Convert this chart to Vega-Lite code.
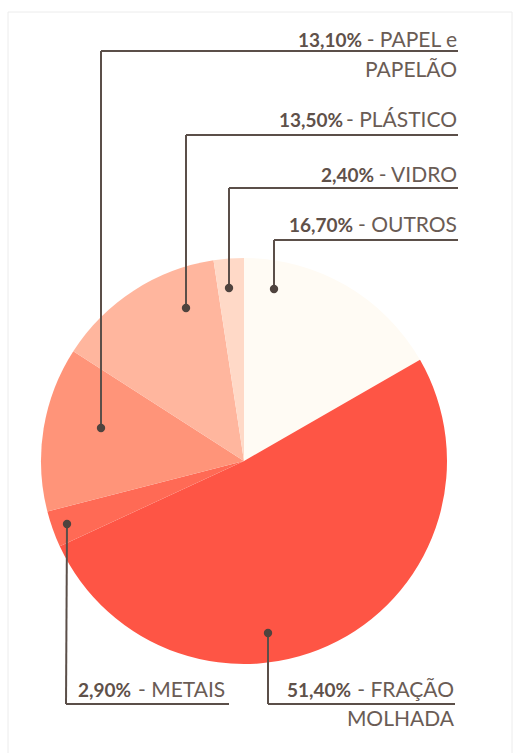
{
  "$schema": "https://vega.github.io/schema/vega-lite/v6.json",
  "width": 514,
  "height": 753,
  "autosize": {"type": "none"},
  "padding": 0,
  "background": "#ffffff",
  "config": {"view": {"stroke": null}},
  "datasets": {
    "fatias": [
      {"categoria": "OUTROS", "valor": 16.7, "ordem": 1},
      {"categoria": "FRAÇÃO MOLHADA", "valor": 51.4, "ordem": 2},
      {"categoria": "METAIS", "valor": 2.9, "ordem": 3},
      {"categoria": "PAPEL e PAPELÃO", "valor": 13.1, "ordem": 4},
      {"categoria": "PLÁSTICO", "valor": 13.5, "ordem": 5},
      {"categoria": "VIDRO", "valor": 2.4, "ordem": 6}
    ],
    "moldura": [{"x": 8, "y": 12, "x2": 512, "y2": 760}],
    "linhas": [
      {"x": 101, "y": 51, "x2": 458, "y2": 51},
      {"x": 101, "y": 51, "x2": 101, "y2": 428},
      {"x": 186, "y": 135, "x2": 458, "y2": 135},
      {"x": 186, "y": 135, "x2": 186, "y2": 308},
      {"x": 229, "y": 188, "x2": 458, "y2": 188},
      {"x": 229, "y": 188, "x2": 229, "y2": 288},
      {"x": 274, "y": 240, "x2": 458, "y2": 240},
      {"x": 274, "y": 240, "x2": 274, "y2": 289},
      {"x": 66, "y": 704, "x2": 229, "y2": 704},
      {"x": 66, "y": 704, "x2": 67, "y2": 524},
      {"x": 268, "y": 704, "x2": 455, "y2": 704},
      {"x": 268, "y": 704, "x2": 268, "y2": 633}
    ],
    "pontos": [
      {"x": 101, "y": 428},
      {"x": 186, "y": 308},
      {"x": 229, "y": 288},
      {"x": 274, "y": 289},
      {"x": 67, "y": 524},
      {"x": 268, "y": 633}
    ],
    "rotulos": [
      {"texto": "13,10%", "x": 362, "y": 47, "peso": "b", "al": "r"},
      {"texto": "- PAPEL e", "x": 457, "y": 47, "peso": "n", "al": "r"},
      {"texto": "PAPELÃO", "x": 457, "y": 77, "peso": "n", "al": "r"},
      {"texto": "13,50%", "x": 343, "y": 127, "peso": "b", "al": "r"},
      {"texto": "- PLÁSTICO", "x": 457, "y": 127, "peso": "n", "al": "r"},
      {"texto": "2,40%", "x": 374, "y": 182, "peso": "b", "al": "r"},
      {"texto": "- VIDRO", "x": 457, "y": 182, "peso": "n", "al": "r"},
      {"texto": "16,70%", "x": 353, "y": 232, "peso": "b", "al": "r"},
      {"texto": "- OUTROS", "x": 457, "y": 232, "peso": "n", "al": "r"},
      {"texto": "51,40%", "x": 351, "y": 697, "peso": "b", "al": "r"},
      {"texto": "- FRAÇÃO", "x": 454, "y": 697, "peso": "n", "al": "r"},
      {"texto": "MOLHADA", "x": 454, "y": 726, "peso": "n", "al": "r"},
      {"texto": "2,90%", "x": 78, "y": 697, "peso": "b", "al": "l"},
      {"texto": "- METAIS", "x": 138, "y": 697, "peso": "n", "al": "l"}
    ]
  },
  "layer": [
    {
      "data": {"name": "moldura"},
      "mark": {"type": "rect", "fill": null, "stroke": "#ececec", "strokeWidth": 1},
      "encoding": {
        "x": {"field": "x", "type": "quantitative", "scale": {"domain": [0, 514], "nice": false, "zero": false}, "axis": null},
        "x2": {"field": "x2"},
        "y": {"field": "y", "type": "quantitative", "scale": {"domain": [0, 753], "nice": false, "zero": false, "reverse": true}, "axis": null},
        "y2": {"field": "y2"}
      }
    },
    {
      "data": {"name": "fatias"},
      "mark": {"type": "arc", "outerRadius": 203},
      "encoding": {
        "x": {"datum": 244, "type": "quantitative"},
        "y": {"datum": 461, "type": "quantitative"},
        "theta": {"field": "valor", "type": "quantitative", "stack": true},
        "order": {"field": "ordem", "type": "quantitative"},
        "color": {
          "field": "categoria",
          "type": "nominal",
          "scale": {
            "domain": ["OUTROS", "FRAÇÃO MOLHADA", "METAIS", "PAPEL e PAPELÃO", "PLÁSTICO", "VIDRO"],
            "range": ["#fffbf4", "#fe5545", "#ff6a55", "#ff9479", "#ffb69e", "#ffd9c7"]
          },
          "legend": null
        }
      }
    },
    {
      "data": {"name": "linhas"},
      "mark": {"type": "rule", "color": "#5b4f49", "strokeWidth": 2},
      "encoding": {
        "x": {"field": "x", "type": "quantitative"},
        "x2": {"field": "x2"},
        "y": {"field": "y", "type": "quantitative"},
        "y2": {"field": "y2"}
      }
    },
    {
      "data": {"name": "pontos"},
      "mark": {"type": "point", "filled": true, "color": "#4f433e", "opacity": 1, "size": 70},
      "encoding": {
        "x": {"field": "x", "type": "quantitative"},
        "y": {"field": "y", "type": "quantitative"}
      }
    },
    {
      "data": {"name": "rotulos"},
      "transform": [{"filter": "datum.peso == 'b' && datum.al == 'r'"}],
      "mark": {"type": "text", "align": "right", "baseline": "alphabetic", "font": "Lato", "fontSize": 19, "fontWeight": "bold", "color": "#5f514a"},
      "encoding": {
        "x": {"field": "x", "type": "quantitative"},
        "y": {"field": "y", "type": "quantitative"},
        "text": {"field": "texto"}
      }
    },
    {
      "data": {"name": "rotulos"},
      "transform": [{"filter": "datum.peso == 'n' && datum.al == 'r'"}],
      "mark": {"type": "text", "align": "right", "baseline": "alphabetic", "font": "Lato", "fontSize": 21, "color": "#6a5c55"},
      "encoding": {
        "x": {"field": "x", "type": "quantitative"},
        "y": {"field": "y", "type": "quantitative"},
        "text": {"field": "texto"}
      }
    },
    {
      "data": {"name": "rotulos"},
      "transform": [{"filter": "datum.peso == 'b' && datum.al == 'l'"}],
      "mark": {"type": "text", "align": "left", "baseline": "alphabetic", "font": "Lato", "fontSize": 19, "fontWeight": "bold", "color": "#5f514a"},
      "encoding": {
        "x": {"field": "x", "type": "quantitative"},
        "y": {"field": "y", "type": "quantitative"},
        "text": {"field": "texto"}
      }
    },
    {
      "data": {"name": "rotulos"},
      "transform": [{"filter": "datum.peso == 'n' && datum.al == 'l'"}],
      "mark": {"type": "text", "align": "left", "baseline": "alphabetic", "font": "Lato", "fontSize": 21, "color": "#6a5c55"},
      "encoding": {
        "x": {"field": "x", "type": "quantitative"},
        "y": {"field": "y", "type": "quantitative"},
        "text": {"field": "texto"}
      }
    }
  ]
}
